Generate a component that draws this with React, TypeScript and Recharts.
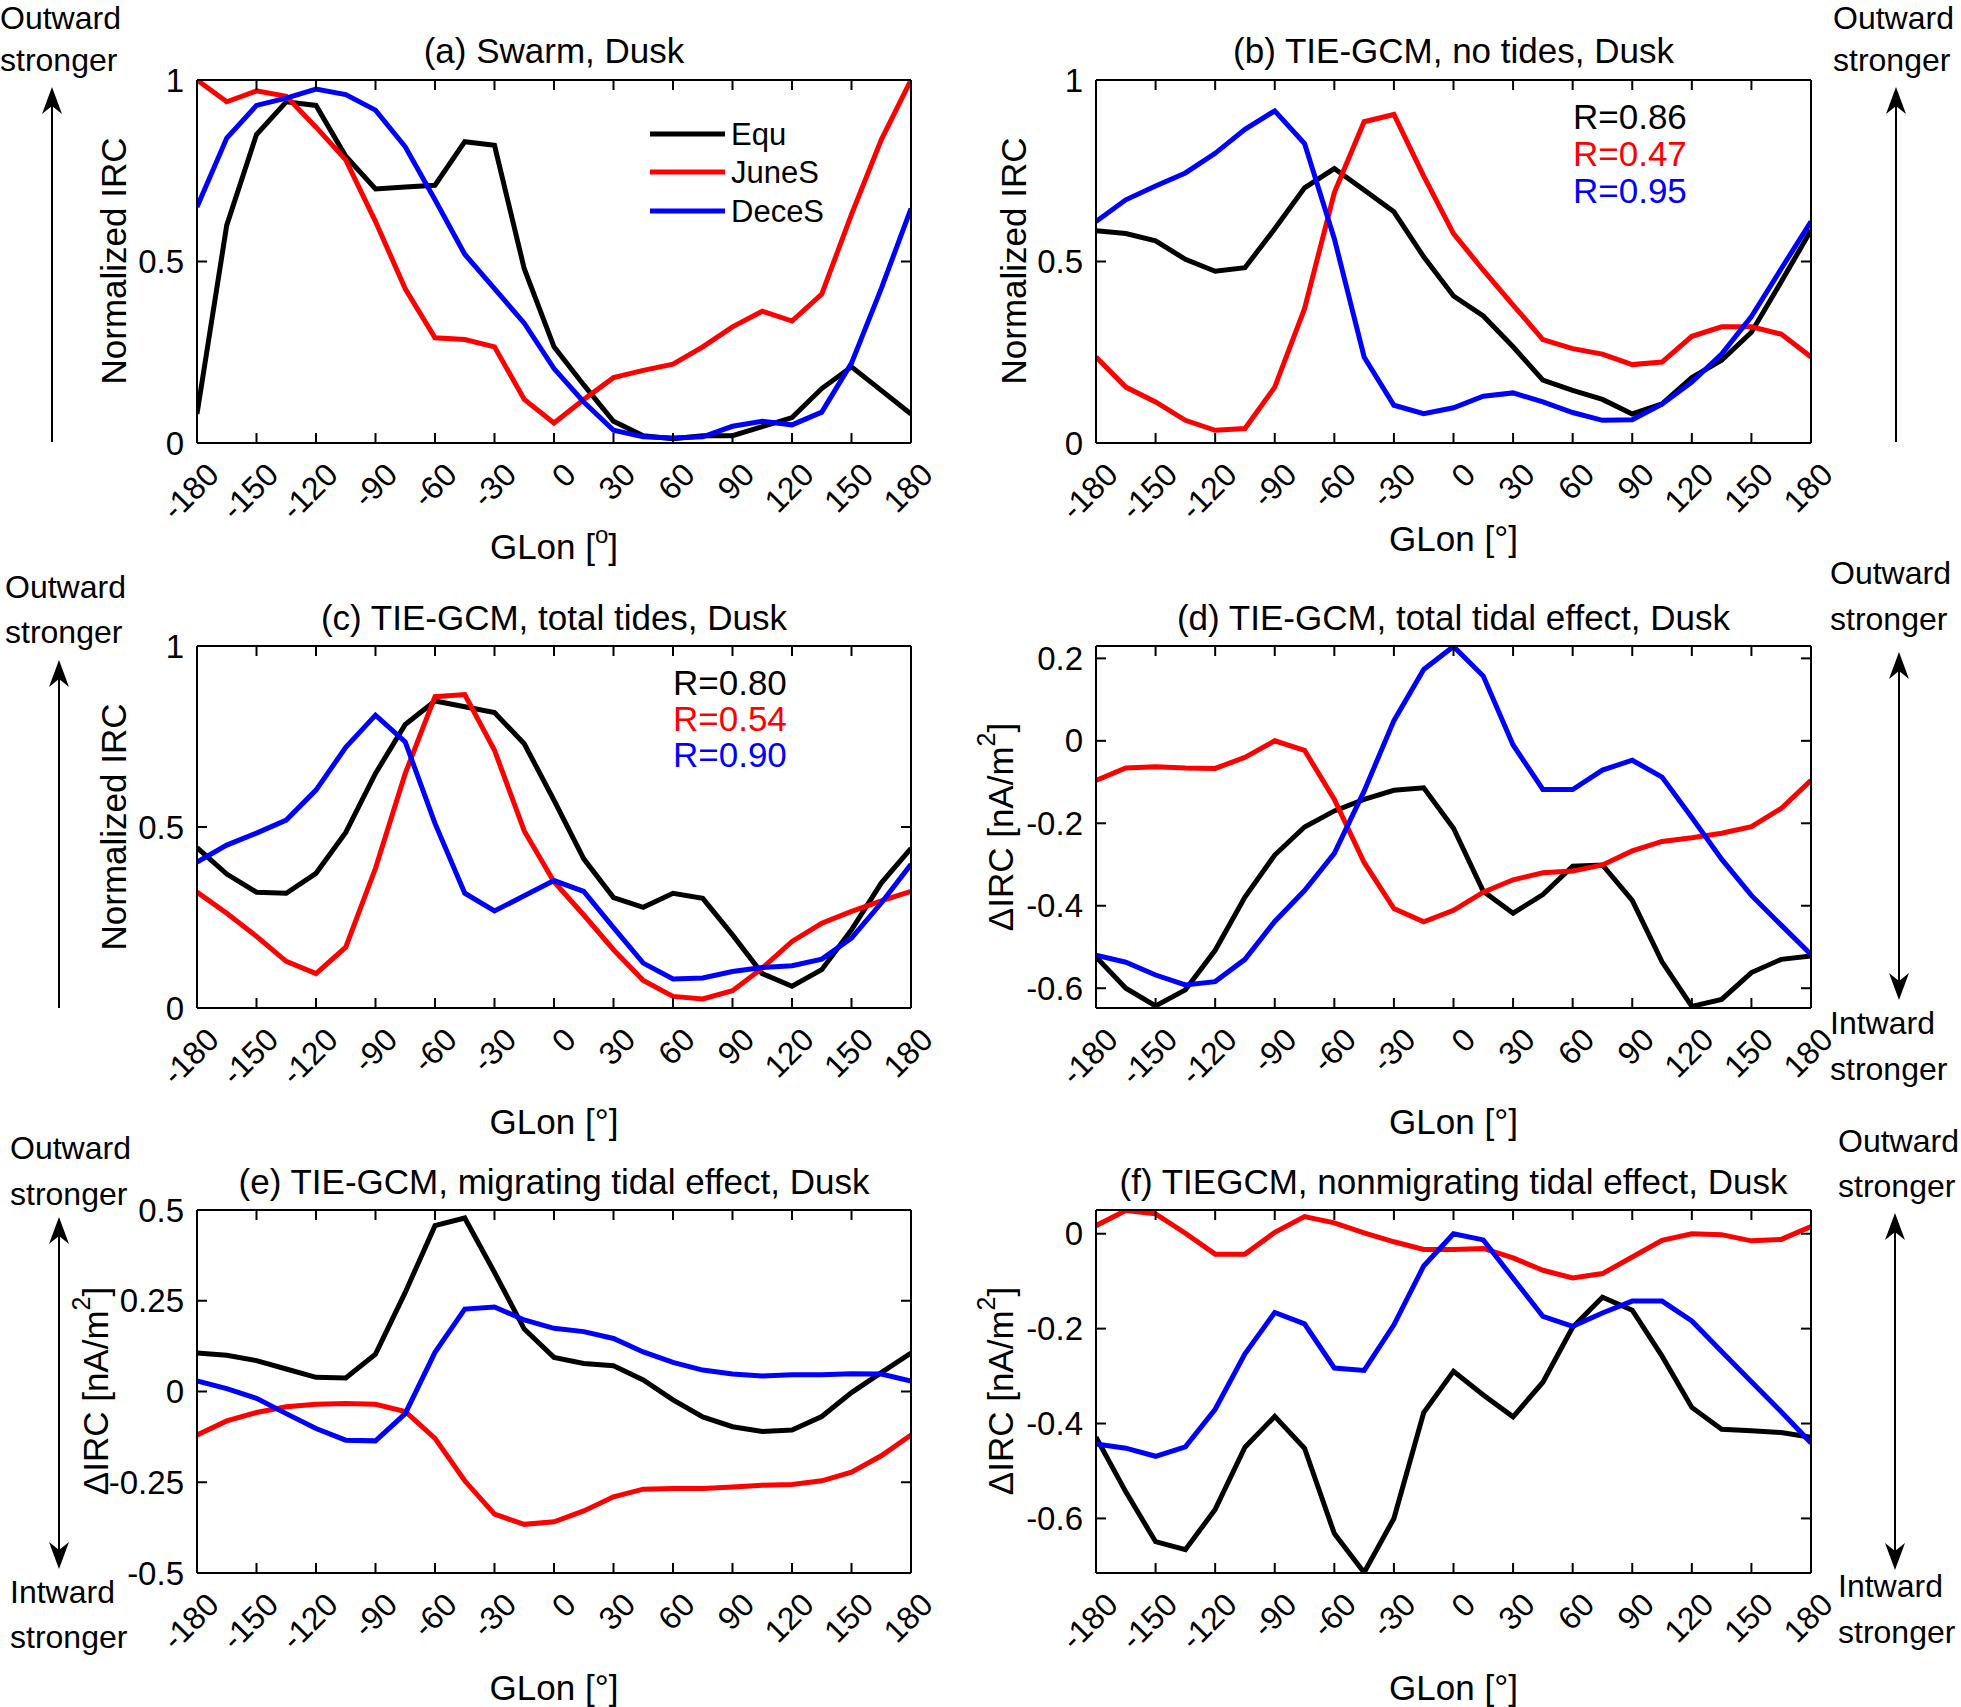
import React from 'react'
import { LineChart, Line, XAxis, YAxis } from 'recharts'

// ── Data ────────────────────────────────────────────────────────────────────

const LON = [-180, -165, -150, -135, -120, -105, -90, -75, -60, -45, -30, -15, 0, 15, 30, 45, 60, 75, 90, 105, 120, 135, 150, 165, 180]
const LON_TICKS = [-180, -150, -120, -90, -60, -30, 0, 30, 60, 90, 120, 150, 180]

// (a) Swarm
const A_EQU = [0.08, 0.60, 0.85, 0.94, 0.93, 0.79, 0.70, 0.705, 0.71, 0.83, 0.82, 0.48, 0.265, 0.16, 0.06, 0.02, 0.012, 0.02, 0.02, 0.045, 0.07, 0.15, 0.21, 0.145, 0.08]
const A_JUN = [1.0, 0.94, 0.97, 0.955, 0.87, 0.78, 0.61, 0.425, 0.29, 0.285, 0.265, 0.12, 0.055, 0.12, 0.18, 0.20, 0.217, 0.265, 0.32, 0.363, 0.336, 0.41, 0.63, 0.835, 1.0]
const A_DEC = [0.65, 0.84, 0.93, 0.95, 0.975, 0.96, 0.917, 0.816, 0.67, 0.52, 0.425, 0.33, 0.205, 0.113, 0.035, 0.017, 0.014, 0.017, 0.046, 0.06, 0.05, 0.085, 0.22, 0.425, 0.646]

// (b) TIE-GCM, no tides
const B_EQU = [0.585, 0.577, 0.557, 0.506, 0.473, 0.483, 0.59, 0.703, 0.756, 0.697, 0.637, 0.513, 0.405, 0.35, 0.265, 0.173, 0.145, 0.12, 0.08, 0.108, 0.18, 0.228, 0.305, 0.444, 0.586]
const B_JUN = [0.237, 0.154, 0.113, 0.0625, 0.035, 0.04, 0.154, 0.37, 0.69, 0.885, 0.905, 0.735, 0.577, 0.476, 0.38, 0.285, 0.26, 0.245, 0.216, 0.223, 0.294, 0.32, 0.32, 0.30, 0.237]
const B_DEC = [0.61, 0.67, 0.708, 0.744, 0.798, 0.864, 0.915, 0.825, 0.563, 0.237, 0.104, 0.081, 0.097, 0.129, 0.138, 0.113, 0.084, 0.0625, 0.064, 0.107, 0.168, 0.245, 0.348, 0.48, 0.61]

// (c) TIE-GCM, total tides
const C_EQU = [0.443, 0.37, 0.32, 0.317, 0.372, 0.485, 0.648, 0.783, 0.848, 0.832, 0.816, 0.73, 0.574, 0.412, 0.305, 0.278, 0.317, 0.303, 0.202, 0.095, 0.06, 0.106, 0.216, 0.345, 0.441]
const C_JUN = [0.32, 0.262, 0.198, 0.129, 0.095, 0.168, 0.386, 0.648, 0.86, 0.866, 0.712, 0.489, 0.349, 0.257, 0.161, 0.076, 0.032, 0.025, 0.048, 0.11, 0.184, 0.234, 0.267, 0.296, 0.322]
const C_DEC = [0.403, 0.45, 0.483, 0.519, 0.602, 0.72, 0.809, 0.735, 0.51, 0.317, 0.268, 0.31, 0.352, 0.322, 0.222, 0.124, 0.08, 0.083, 0.101, 0.112, 0.117, 0.135, 0.193, 0.29, 0.397]

// (d) total tidal effect
const D_EQU = [-0.524, -0.60, -0.643, -0.604, -0.508, -0.379, -0.277, -0.209, -0.170, -0.142, -0.120, -0.114, -0.212, -0.365, -0.418, -0.373, -0.304, -0.301, -0.387, -0.536, -0.644, -0.627, -0.562, -0.530, -0.522]
const D_JUN = [-0.096, -0.066, -0.063, -0.066, -0.067, -0.040, 0.0, -0.023, -0.142, -0.295, -0.407, -0.439, -0.411, -0.367, -0.337, -0.320, -0.316, -0.301, -0.267, -0.244, -0.235, -0.224, -0.208, -0.164, -0.096]
const D_DEC = [-0.52, -0.537, -0.568, -0.592, -0.584, -0.530, -0.438, -0.363, -0.273, -0.122, 0.049, 0.173, 0.229, 0.157, -0.010, -0.118, -0.118, -0.071, -0.047, -0.088, -0.186, -0.287, -0.375, -0.447, -0.518]

// (e) migrating tidal effect
const E_EQU = [0.106, 0.10, 0.085, 0.062, 0.039, 0.037, 0.103, 0.273, 0.457, 0.478, 0.328, 0.172, 0.094, 0.077, 0.071, 0.032, -0.023, -0.070, -0.097, -0.110, -0.106, -0.069, -0.003, 0.052, 0.106]
const E_JUN = [-0.12, -0.081, -0.058, -0.042, -0.035, -0.033, -0.035, -0.055, -0.129, -0.246, -0.338, -0.366, -0.359, -0.329, -0.290, -0.269, -0.267, -0.267, -0.263, -0.258, -0.256, -0.246, -0.222, -0.177, -0.12]
const E_DEC = [0.029, 0.008, -0.019, -0.061, -0.102, -0.134, -0.136, -0.061, 0.108, 0.227, 0.233, 0.197, 0.174, 0.165, 0.146, 0.109, 0.080, 0.059, 0.048, 0.043, 0.046, 0.046, 0.049, 0.048, 0.029]

// (f) nonmigrating tidal effect
const F_EQU = [-0.429, -0.544, -0.649, -0.666, -0.581, -0.450, -0.385, -0.452, -0.632, -0.714, -0.600, -0.377, -0.290, -0.340, -0.386, -0.313, -0.197, -0.134, -0.161, -0.258, -0.366, -0.412, -0.415, -0.419, -0.429]
const F_JUN = [0.017, 0.049, 0.042, 0.001, -0.043, -0.043, 0.003, 0.036, 0.023, 0.002, -0.017, -0.033, -0.033, -0.031, -0.051, -0.077, -0.093, -0.084, -0.049, -0.014, 0.0, -0.002, -0.015, -0.012, 0.015]
const F_DEC = [-0.443, -0.452, -0.469, -0.449, -0.370, -0.253, -0.166, -0.190, -0.283, -0.288, -0.192, -0.068, 0.0, -0.013, -0.094, -0.174, -0.195, -0.167, -0.142, -0.142, -0.184, -0.248, -0.312, -0.375, -0.441]

const build = (equ: number[], jun: number[], dec: number[]) =>
  LON.map((lon, i) => ({ lon, equ: equ[i], jun: jun[i], dec: dec[i] }))

// ── Layout ──────────────────────────────────────────────────────────────────

const FONT = '"Liberation Sans", Arial, Helvetica, sans-serif'
const ML = 110, MR = 30, MT = 20, MB = 90
const XTICK_FS = 32
const YTICK_FS = 33

type Box = { x0: number; x1: number; y0: number; y1: number }

const BOX_A: Box = { x0: 197, x1: 911, y0: 80, y1: 443 }
const BOX_B: Box = { x0: 1096, x1: 1811, y0: 80, y1: 443 }
const BOX_C: Box = { x0: 197, x1: 911, y0: 646, y1: 1008 }
const BOX_D: Box = { x0: 1096, x1: 1811, y0: 646, y1: 1008 }
const BOX_E: Box = { x0: 197, x1: 911, y0: 1210, y1: 1573 }
const BOX_F: Box = { x0: 1096, x1: 1811, y0: 1210, y1: 1573 }

type PanelProps = {
  box: Box
  data: { lon: number; equ: number; jun: number; dec: number }[]
  domain: [number, number]
  yTicks: number[]
}

function Panel({ box, data, domain, yTicks }: PanelProps) {
  const W = box.x1 - box.x0
  const H = box.y1 - box.y0
  const top = MT, bottom = MT + H, left = ML, right = ML + W

  // ticks point inwards on all four sides, like a boxed MATLAB axes
  const bottomTick = (p: any) => (
    <g>
      <line x1={p.x} x2={p.x} y1={bottom} y2={bottom - 10} stroke="#000" strokeWidth={2} />
      <text
        transform={`translate(${p.x + 16},${bottom + 26}) rotate(-45)`}
        textAnchor="end" dominantBaseline="central" fontSize={XTICK_FS} fontFamily={FONT} fill="#000"
      >{p.payload.value}</text>
    </g>
  )
  const topTick = (p: any) => <line x1={p.x} x2={p.x} y1={top} y2={top + 10} stroke="#000" strokeWidth={2} />
  const leftTick = (p: any) => (
    <g>
      <line x1={left} x2={left + 10} y1={p.y} y2={p.y} stroke="#000" strokeWidth={2} />
      <text x={left - 13} y={p.y} textAnchor="end" dominantBaseline="central" fontSize={YTICK_FS} fontFamily={FONT} fill="#000">
        {p.payload.value}
      </text>
    </g>
  )
  const rightTick = (p: any) => <line x1={right} x2={right - 10} y1={p.y} y2={p.y} stroke="#000" strokeWidth={2} />

  const axisLine = { stroke: '#000', strokeWidth: 2 }

  return (
    <div style={{ position: 'absolute', left: box.x0 - ML, top: box.y0 - MT }}>
      <LineChart width={ML + W + MR} height={MT + H + MB} data={data}
        margin={{ top: MT - 1, right: MR - 1, bottom: MB - 1, left: ML - 1 }}>
        <XAxis dataKey="lon" type="number" domain={[-180, 180]} ticks={LON_TICKS} interval={0} allowDataOverflow
          height={1} tickLine={false} axisLine={axisLine} tick={bottomTick} />
        <XAxis xAxisId="top" orientation="top" dataKey="lon" type="number" domain={[-180, 180]} ticks={LON_TICKS} interval={0}
          allowDataOverflow height={1} tickLine={false} axisLine={axisLine} tick={topTick} />
        <YAxis type="number" domain={domain} ticks={yTicks} interval={0} allowDataOverflow
          width={1} tickLine={false} axisLine={axisLine} tick={leftTick} />
        <YAxis yAxisId="right" orientation="right" type="number" domain={domain} ticks={yTicks} interval={0} allowDataOverflow
          width={1} tickLine={false} axisLine={axisLine} tick={rightTick} />
        <Line dataKey="equ" type="linear" stroke="#000000" strokeWidth={5} dot={false} isAnimationActive={false} />
        <Line dataKey="jun" type="linear" stroke="#ff0000" strokeWidth={5} dot={false} isAnimationActive={false} />
        <Line dataKey="dec" type="linear" stroke="#0000ff" strokeWidth={5} dot={false} isAnimationActive={false} />
      </LineChart>
    </div>
  )
}

// ── Annotations ─────────────────────────────────────────────────────────────

const txt = { fontFamily: FONT, fill: '#000' }

function Arrow({ x, y1, y2, up, down }: { x: number; y1: number; y2: number; up?: boolean; down?: boolean }) {
  const head = (tip: number, dir: number) =>
    `M${x},${tip} L${x - 10},${tip + dir * 27} L${x},${tip + dir * 19} L${x + 10},${tip + dir * 27} Z`
  return (
    <g>
      <line x1={x} x2={x} y1={up ? y1 + 18 : y1} y2={down ? y2 - 18 : y2} stroke="#000" strokeWidth={2} />
      {up && <path d={head(y1, 1)} fill="#000" />}
      {down && <path d={head(y2, -1)} fill="#000" />}
    </g>
  )
}

function Side({ x, ys, words }: { x: number; ys: number[]; words: string[] }) {
  return (
    <g>
      {words.map((w, i) => (
        <text key={i} x={x} y={ys[i]} dominantBaseline="central" fontSize={32} {...txt}>{w}</text>
      ))}
    </g>
  )
}

function Title({ x, y, children }: { x: number; y: number; children: React.ReactNode }) {
  return <text x={x} y={y} textAnchor="middle" dominantBaseline="central" fontSize={35} {...txt}>{children}</text>
}

function YLabel({ x, y, delta }: { x: number; y: number; delta?: boolean }) {
  return (
    <text transform={`translate(${x},${y}) rotate(-90)`} textAnchor="middle" dominantBaseline="central" fontSize={35} {...txt}>
      {delta ? (
        <>ΔIRC [nA/m<tspan dy={-14} fontSize={25}>2</tspan><tspan dy={14}>]</tspan></>
      ) : 'Normalized IRC'}
    </text>
  )
}

function XLabel({ x, y, sup }: { x: number; y: number; sup?: boolean }) {
  return (
    <text x={x} y={y} textAnchor="middle" fontSize={35} {...txt}>
      {sup ? (<>GLon [<tspan dy={-16} fontSize={24}>o</tspan><tspan dy={16}>]</tspan></>) : 'GLon [°]'}
    </text>
  )
}

function Overlay() {
  const cx1 = (BOX_A.x0 + BOX_A.x1) / 2
  const cx2 = (BOX_B.x0 + BOX_B.x1) / 2
  return (
    <svg width={1961} height={1707} style={{ position: 'absolute', left: 0, top: 0, pointerEvents: 'none' }}>
      <Title x={cx1} y={50}>(a) Swarm, Dusk</Title>
      <Title x={cx2} y={50}>(b) TIE-GCM, no tides, Dusk</Title>
      <Title x={cx1} y={617}>(c) TIE-GCM, total tides, Dusk</Title>
      <Title x={cx2} y={617}>(d) TIE-GCM, total tidal effect, Dusk</Title>
      <Title x={cx1} y={1181}>(e) TIE-GCM, migrating tidal effect, Dusk</Title>
      <Title x={cx2} y={1181}>(f) TIEGCM, nonmigrating tidal effect, Dusk</Title>

      <YLabel x={113} y={261} />
      <YLabel x={1013} y={261} />
      <YLabel x={113} y={827} />
      <YLabel x={1000} y={827} delta />
      <YLabel x={95} y={1391} delta />
      <YLabel x={1000} y={1391} delta />

      <XLabel x={cx1} y={559} sup />
      <XLabel x={cx2} y={551} />
      <XLabel x={cx1} y={1134} />
      <XLabel x={cx2} y={1134} />
      <XLabel x={cx1} y={1700} />
      <XLabel x={cx2} y={1700} />

      {/* legend, panel (a) */}
      {[['Equ', '#000', 134], ['JuneS', '#ff0000', 172], ['DeceS', '#0000ff', 211]].map(([name, c, y]) => (
        <g key={name as string}>
          <line x1={650} x2={725} y1={y as number} y2={y as number} stroke={c as string} strokeWidth={5} />
          <text x={731} y={y as number} dominantBaseline="central" fontSize={31} {...txt}>{name}</text>
        </g>
      ))}

      {/* correlation coefficients */}
      <text x={1573} y={116} dominantBaseline="central" fontSize={35} fontFamily={FONT} fill="#000">R=0.86</text>
      <text x={1573} y={153} dominantBaseline="central" fontSize={35} fontFamily={FONT} fill="#ff0000">R=0.47</text>
      <text x={1573} y={190} dominantBaseline="central" fontSize={35} fontFamily={FONT} fill="#0000ff">R=0.95</text>
      <text x={673} y={682} dominantBaseline="central" fontSize={35} fontFamily={FONT} fill="#000">R=0.80</text>
      <text x={673} y={718} dominantBaseline="central" fontSize={35} fontFamily={FONT} fill="#ff0000">R=0.54</text>
      <text x={673} y={754} dominantBaseline="central" fontSize={35} fontFamily={FONT} fill="#0000ff">R=0.90</text>

      {/* outward / inward annotations */}
      <Side x={0} ys={[18, 60]} words={['Outward', 'stronger']} />
      <Arrow x={52} y1={87} y2={442} up />
      <Side x={1833} ys={[18, 60]} words={['Outward', 'stronger']} />
      <Arrow x={1896} y1={87} y2={442} up />

      <Side x={5} ys={[587, 632]} words={['Outward', 'stronger']} />
      <Arrow x={59} y1={660} y2={1008} up />
      <Side x={1830} ys={[573, 619, 1023, 1069]} words={['Outward', 'stronger', 'Intward', 'stronger']} />
      <Arrow x={1899} y1={652} y2={1000} up down />

      <Side x={10} ys={[1148, 1194, 1592, 1637]} words={['Outward', 'stronger', 'Intward', 'stronger']} />
      <Arrow x={59} y1={1217} y2={1569} up down />
      <Side x={1838} ys={[1141, 1186, 1586, 1632]} words={['Outward', 'stronger', 'Intward', 'stronger']} />
      <Arrow x={1895} y1={1213} y2={1570} up down />
    </svg>
  )
}

export default function App() {
  return (
    <div style={{ position: 'absolute', left: 0, top: 0, width: 1961, height: 1707, background: '#fff', fontFamily: FONT }}>
      <Panel box={BOX_A} data={build(A_EQU, A_JUN, A_DEC)} domain={[0, 1]} yTicks={[0, 0.5, 1]} />
      <Panel box={BOX_B} data={build(B_EQU, B_JUN, B_DEC)} domain={[0, 1]} yTicks={[0, 0.5, 1]} />
      <Panel box={BOX_C} data={build(C_EQU, C_JUN, C_DEC)} domain={[0, 1]} yTicks={[0, 0.5, 1]} />
      <Panel box={BOX_D} data={build(D_EQU, D_JUN, D_DEC)} domain={[-0.648, 0.23]} yTicks={[-0.6, -0.4, -0.2, 0, 0.2]} />
      <Panel box={BOX_E} data={build(E_EQU, E_JUN, E_DEC)} domain={[-0.5, 0.5]} yTicks={[-0.5, -0.25, 0, 0.25, 0.5]} />
      <Panel box={BOX_F} data={build(F_EQU, F_JUN, F_DEC)} domain={[-0.715, 0.05]} yTicks={[-0.6, -0.4, -0.2, 0]} />
      <Overlay />
    </div>
  )
}
